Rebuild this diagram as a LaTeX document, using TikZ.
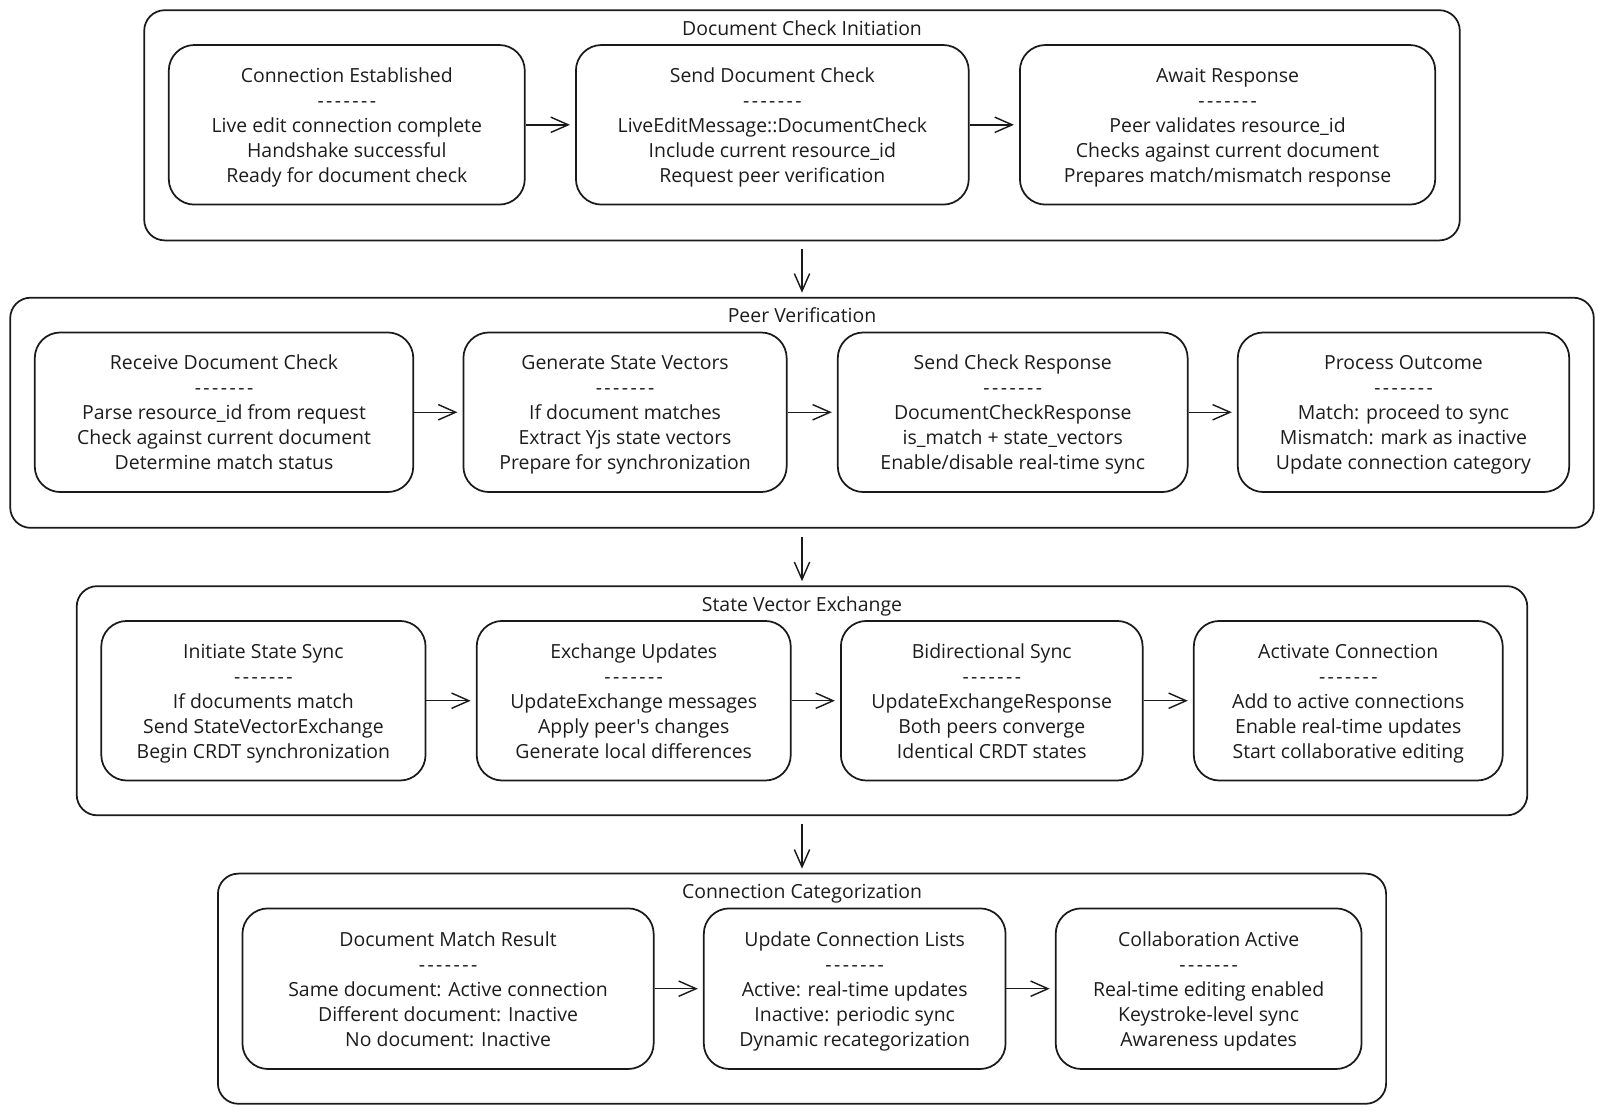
\documentclass[tikz,border=0pt]{standalone}
\usepackage{fontspec}
\setmainfont{Open Sans}[Ligatures=TeXOff]
\usetikzlibrary{arrows.meta}
\definecolor{ink}{HTML}{1A1A1A}
\definecolor{txt}{HTML}{1C1C1C}
\newcommand\dsh{-\kern2.4pt-\kern2.4pt-\kern2.4pt-\kern2.4pt-\kern2.4pt-\kern2.4pt-}
\newcommand\tp{\rule{0pt}{22pt}}
\newcommand\bt{\rule[-7.35pt]{0pt}{7.35pt}}
\begin{document}
\begin{tikzpicture}[x=1pt,y=-1pt,
  box/.style={draw=ink, line width=1.7pt, rounded corners=25pt, align=center, inner sep=0pt,
    text=txt, font=\fontsize{19}{24.5}\selectfont, minimum height=156pt},
  grp/.style={draw=ink, line width=1.7pt, rounded corners=20pt, inner sep=0pt, minimum height=225pt},
  ttl/.style={text=txt, font=\fontsize{19}{24.5}\selectfont, inner sep=0pt, anchor=base},
  arr/.style={draw=ink, line width=1.4pt, -{Straight Barb[length=17pt,width=15pt]}}
]
\useasboundingbox (0,0) rectangle (1568,1089);
% Group 1
\node[grp, minimum width=1286pt] (g1) at (784,122.5) {};
\node[ttl] (t1) at (784,34.5) {Document Check Initiation};
\node[box, minimum width=348pt] (a1) at (339,122) {\tp Connection Established\\\dsh\\Live edit connection complete\\Handshake successful\\Ready for document check\bt};
\node[box, minimum width=384pt] (a2) at (755,122) {\tp Send Document Check\\\dsh\\LiveEditMessage::DocumentCheck\\Include current resource\_id\\Request peer verification\bt};
\node[box, minimum width=406pt] (a3) at (1200,122) {\tp Await Response\\\dsh\\Peer validates resource\_id\\Checks against current document\\Prepares match/mismatch response\bt};
% Group 2
\node[grp, minimum width=1548pt] (g2) at (784,403.5) {};
\node[ttl] (t2) at (784,315.5) {Peer Verification};
\node[box, minimum width=370pt] (b1) at (219,403) {\tp Receive Document Check\\\dsh\\Parse resource\_id from request\\Check against current document\\Determine match status\bt};
\node[box, minimum width=316pt] (b2) at (611,403) {\tp Generate State Vectors\\\dsh\\If document matches\\Extract Yjs state vectors\\Prepare for synchronization\bt};
\node[box, minimum width=342pt] (b3) at (990,403) {\tp Send Check Response\\\dsh\\DocumentCheckResponse\\is\_match + state\_vectors\\Enable/disable real-time sync\bt};
\node[box, minimum width=324pt] (b4) at (1372,403) {\tp Process Outcome\\\dsh\\Match: proceed to sync\\Mismatch: mark as inactive\\Update connection category\bt};
% Group 3
\node[grp, minimum width=1418pt, minimum height=224pt] (g3) at (784,685) {};
\node[ttl] (t3) at (784,597.5) {State Vector Exchange};
\node[box, minimum width=317pt] (c1) at (257.5,685) {\tp Initiate State Sync\\\dsh\\If documents match\\Send StateVectorExchange\\Begin CRDT synchronization\bt};
\node[box, minimum width=307pt] (c2) at (619.5,685) {\tp Exchange Updates\\\dsh\\UpdateExchange messages\\Apply peer's changes\\Generate local differences\bt};
\node[box, minimum width=295pt] (c3) at (969.5,685) {\tp Bidirectional Sync\\\dsh\\UpdateExchangeResponse\\Both peers converge\\Identical CRDT states\bt};
\node[box, minimum width=302pt] (c4) at (1318,685) {\tp Activate Connection\\\dsh\\Add to active connections\\Enable real-time updates\\Start collaborative editing\bt};
% Group 4
\node[grp, minimum width=1142pt] (g4) at (784,966.5) {};
\node[ttl] (t4) at (784,878.5) {Connection Categorization};
\node[box, minimum width=402pt, minimum height=157pt] (d1) at (438,966.5) {\tp Document Match Result\\\dsh\\Same document: Active connection\\Different document: Inactive\\No document: Inactive\bt};
\node[box, minimum width=295pt, minimum height=157pt] (d2) at (835.5,966.5) {\tp Update Connection Lists\\\dsh\\Active: real-time updates\\Inactive: periodic sync\\Dynamic recategorization\bt};
\node[box, minimum width=299pt, minimum height=157pt] (d3) at (1181.5,966.5) {\tp Collaboration Active\\\dsh\\Real-time editing enabled\\Keystroke-level sync\\Awareness updates\bt};
% horizontal arrows
\foreach \p/\q in {a1/a2,a2/a3,b1/b2,b2/b3,b3/b4,c1/c2,c2/c3,c3/c4,d1/d2,d2/d3}
  \draw[arr] (\p.east) -- ([xshift=-5pt]\q.west);
% vertical arrows
\draw[arr] ([yshift=-8pt]g1.south) -- ([yshift=4pt]g2.north);
\draw[arr] ([yshift=-8pt]g2.south) -- ([yshift=4pt]g3.north);
\draw[arr] ([yshift=-8pt]g3.south) -- ([yshift=4pt]g4.north);
\end{tikzpicture}
\end{document}
